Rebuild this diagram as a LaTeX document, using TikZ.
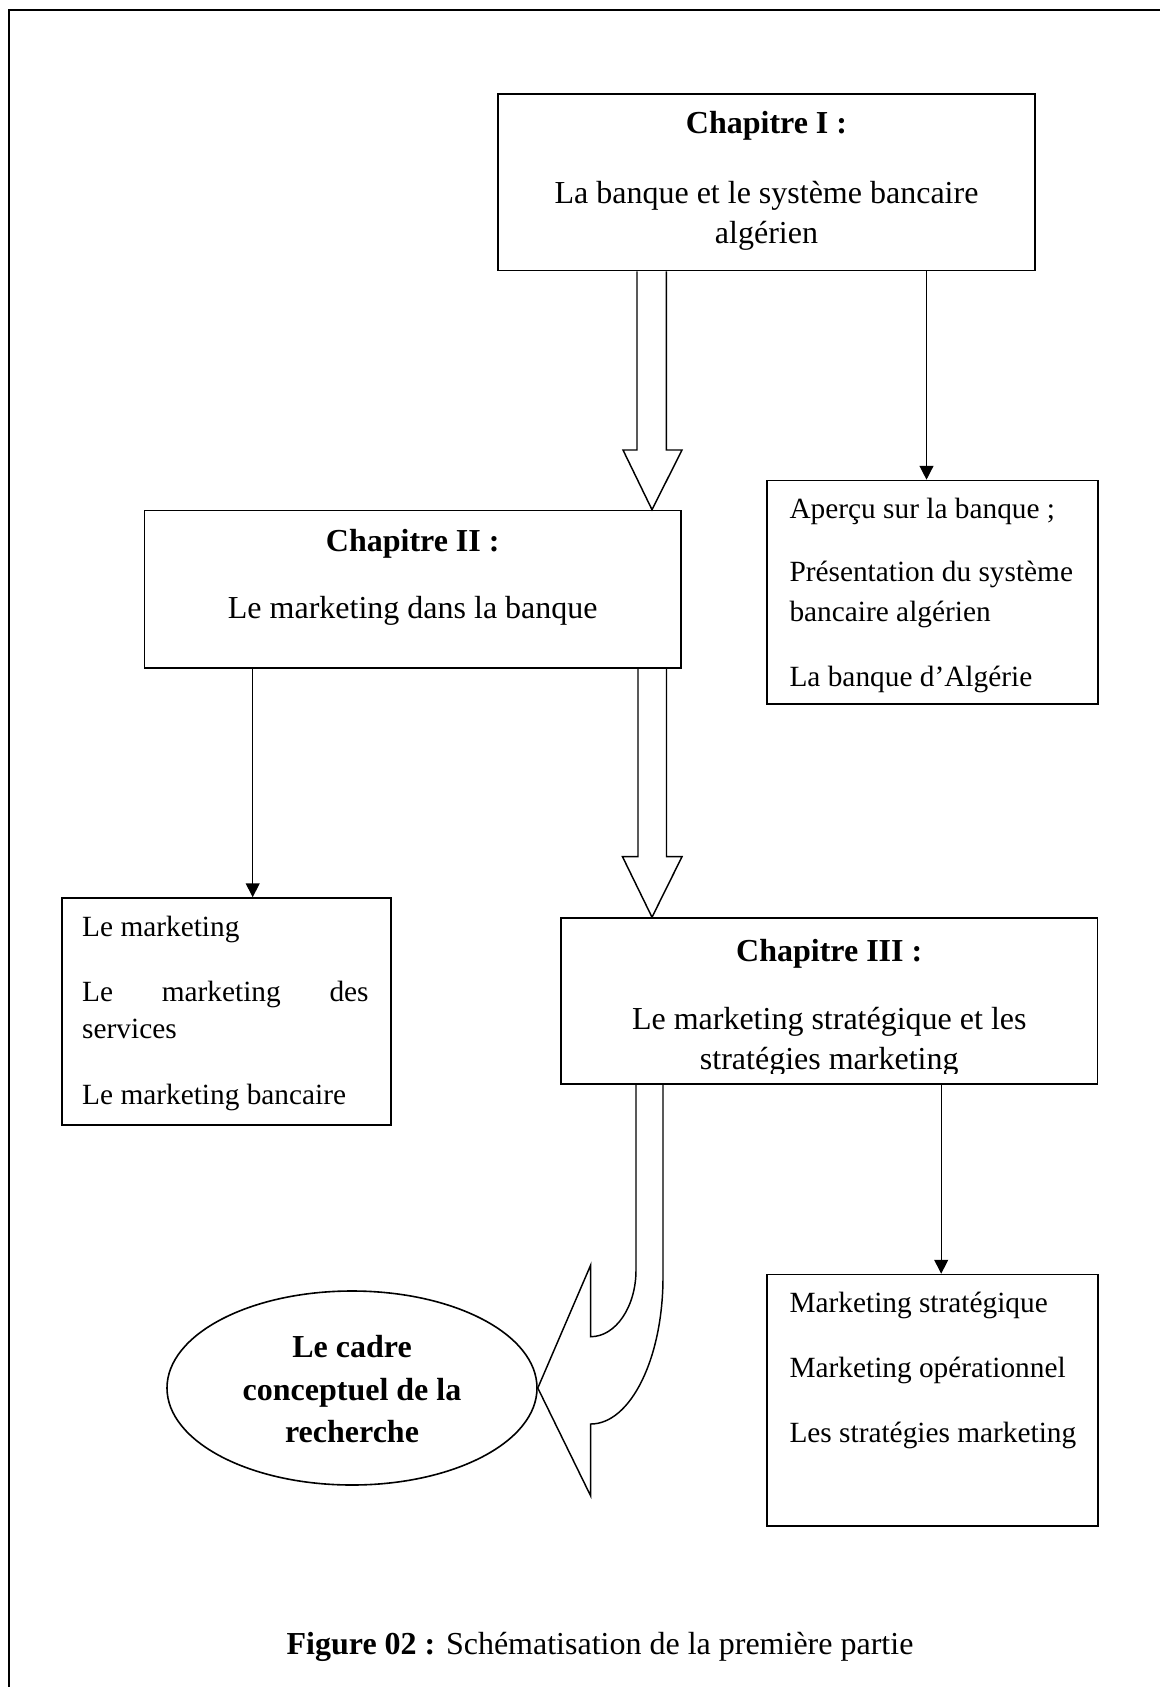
\documentclass[tikz,border=0pt]{standalone}
\usepackage{fontspec}
\setmainfont{Liberation Serif}
\usetikzlibrary{arrows.meta,shapes.geometric}

\tikzset{
  % one drawing unit = one pixel of the page at 192 dpi
  frame/.style={line width=0.85pt},
  boxframe/.style={draw, line width=0.6pt, rectangle, inner sep=0pt},
  wh/.style 2 args={minimum width=#1*0.375pt, minimum height=#2*0.375pt},
  oval/.style={draw, line width=0.6pt, ellipse, inner sep=0pt},
  line/.style={inner sep=0pt, anchor=base},
  lineleft/.style={inner sep=0pt, anchor=base west},
  big/.style={font=\fontsize{12}{15}\selectfont},
  bigbf/.style={font=\fontsize{12}{15}\selectfont\bfseries},
  small/.style={font=\fontsize{11}{14}\selectfont},
  link/.style={line width=0.5pt, -{Triangle[width=5.2pt,length=5.2pt]}},
  hollow/.style={line width=0.55pt, line join=miter}
}

\begin{document}
\begin{tikzpicture}[x=0.375pt, y=-0.375pt]
\useasboundingbox (0,0) rectangle (1160,1687);
\clip (0,0) rectangle (1160,1687);

% page frame
\draw[frame] (9,10) rectangle (1180,1710);

% chapter boxes
\node[boxframe, wh={537}{176.7}] (c1) at (766.5,182.35) {};
\node[boxframe, wh={536.5}{157.5}] (c2) at (412.75,589.25) {};
\node[boxframe, wh={536.5}{166}] (c3) at (829.25,1001) {};

% content boxes
\node[boxframe, wh={331.3}{223.5}] (ap) at (932.35,592.25) {};
\node[boxframe, wh={329}{227}] (lb) at (226.2,1011.5) {};
\node[boxframe, wh={331}{251.2}] (br) at (932.2,1400.1) {};

% conclusion
\node[oval, minimum width=138.75pt, minimum height=72.75pt] (ell) at (352,1388) {};

% chapter I text
\node[line, bigbf] (t1a) at (766.5,133.5) {Chapitre I :};
\node[line, big] (t1b) at (766.5,203.3) {La banque et le système bancaire};
\node[line, big] (t1c) at (766.5,243.3) {algérien};

% chapter II text
\node[line, bigbf] (t2a) at (412.75,551.7) {Chapitre II :};
\node[line, big] (t2b) at (412.75,618.3) {Le marketing dans la banque};

% chapter III text (last line runs into the lower edge)
\node[line, bigbf] (t3a) at (829.25,961) {Chapitre III :};
\node[line, big] (t3b) at (829.25,1029.3) {Le marketing stratégique et les};
\begin{scope}
  \clip (561,1040) rectangle (1097,1073.5);
  \node[line, big] (t3c) at (829.25,1069.3) {stratégies marketing};
\end{scope}

% contents of chapter I
\node[lineleft, small] (a1) at (789,518) {Aperçu sur la banque ;};
\node[lineleft, small] (a2) at (789,581.7) {Présentation du système};
\node[lineleft, small] (a3) at (789,621.7) {bancaire algérien};
\node[lineleft, small] (a4) at (789,686.7) {La banque d’Algérie};

% contents of chapter II
\node[lineleft, small] (l1) at (81.7,936) {Le marketing};
\node[lineleft, small] (l2) at (81.7,1001.5) {\hbox to 107.4pt{Le\hfill marketing\hfill des}};
\node[lineleft, small] (l3) at (81.7,1038.5) {services};
\node[lineleft, small] (l4) at (81.7,1104) {Le marketing bancaire};

% contents of chapter III
\node[lineleft, small] (b1) at (789,1312) {Marketing stratégique};
\node[lineleft, small] (b2) at (789,1377) {Marketing opérationnel};
\node[lineleft, small] (b3) at (789,1442) {Les stratégies marketing};

% conclusion text
\node[line, bigbf] (e1) at (352,1357) {Le cadre};
\node[line, bigbf] (e2) at (352,1400) {conceptuel de la};
\node[line, bigbf] (e3) at (352,1442) {recherche};

% caption
\node[line, big] (cap) at (600,1654) {\textbf{Figure 02 :} Schématisation de la première partie};

% thin arrows to the contents
\draw[link] (926.5,0 |- c1.south) -- (926.5,0 |- ap.north);
\draw[link] (252.7,0 |- c2.south) -- (252.7,0 |- lb.north);
\draw[link] (941.2,0 |- c3.south) -- (941.2,0 |- br.north);

% hollow arrows between chapters
\draw[hollow] (637,0 |- c1.south) -- (637,450) -- (623,450) -- (652,0 |- c2.north)
  -- (682,450) -- (666.4,450) -- (666.4,0 |- c1.south);
\draw[hollow] (638,0 |- c2.south) -- (638,856.7) -- (622.5,856.7) -- (652,0 |- c3.north)
  -- (682,856.7) -- (666.5,856.7) -- (666.5,0 |- c2.south);

% curved hollow arrow towards the conclusion
\draw[hollow] (636,0 |- c3.south) -- (636,1270)
  .. controls (636,1306.8) and (615.7,1336.7) .. (590.7,1336.7)
  -- (590.7,1265) -- (ell.east) -- (590.7,1496) -- (590.7,1424)
  .. controls (630.6,1424) and (663,1358.1) .. (663,1277)
  -- (663,0 |- c3.south);
\end{tikzpicture}
\end{document}
